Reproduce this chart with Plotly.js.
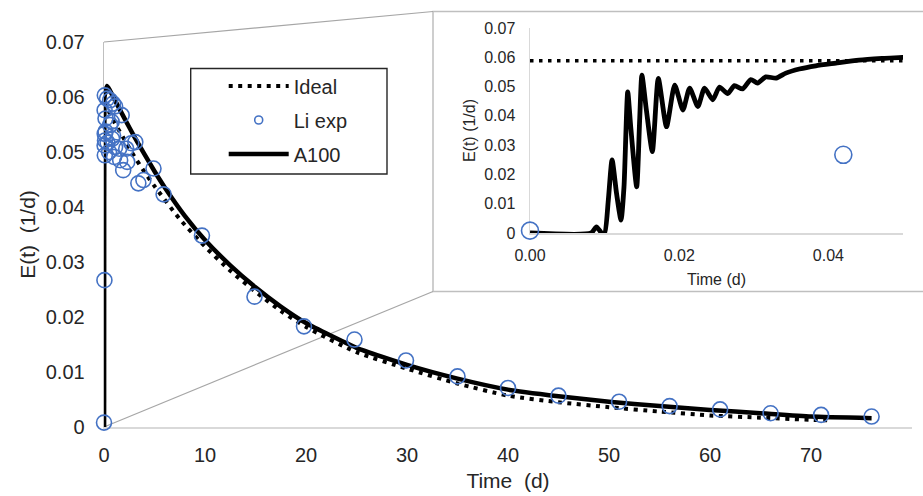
<!DOCTYPE html>
<html>
<head>
<meta charset="utf-8">
<script src="https://cdn.plot.ly/plotly-3.0.1.min.js"></script>
<style>html,body{margin:0;padding:0;background:#fff;}#chart{width:923px;height:496px;}</style>
</head>
<body>
<div id="chart"></div>
<script>
// ---- data ----
var idealT = [0, 0.05, 1, 2, 3, 4, 5, 7.5, 10, 12.5, 15, 17.5, 20, 25, 30, 35, 40, 45, 50, 55, 60, 65, 70, 72];
var idealE = [0.0588, 0.0588, 0.0555, 0.0523, 0.0492, 0.0464, 0.0438, 0.0378, 0.0328, 0.0284, 0.0246, 0.0211, 0.0182, 0.0136, 0.0106, 0.0079, 0.0057, 0.0045, 0.0036, 0.0028, 0.0021, 0.0017, 0.0013, 0.0012];

var a100T = [0, 0.0082, 0.0089, 0.0096, 0.0100, 0.0105, 0.0110, 0.0116, 0.0122, 0.0126, 0.0131, 0.0135, 0.0143, 0.0147, 0.0150, 0.0156, 0.0164, 0.0172, 0.0183, 0.0194, 0.0205, 0.0214, 0.0225, 0.0234, 0.0245, 0.0254, 0.0265, 0.0274, 0.0285, 0.0296, 0.0305, 0.0316, 0.0330, 0.0343, 0.0361, 0.0383, 0.0410, 0.0441, 0.0472, 0.0499,
            0.3, 1, 2, 3, 4, 5, 6, 8, 10, 12.5, 15, 17.5, 20, 25, 30, 35, 40, 45, 50, 55, 60, 65, 70, 76];
var a100E = [0, 0, 0.0021, 0, 0, 0.0113, 0.0250, 0.0135, 0.0044, 0.0158, 0.0482, 0.0363, 0.0158, 0.0386, 0.0539, 0.0420, 0.0278, 0.0528, 0.0363, 0.0505, 0.0420, 0.0495, 0.0432, 0.0495, 0.0455, 0.0498, 0.0476, 0.0503, 0.0492, 0.0524, 0.0512, 0.0533, 0.0529, 0.0546, 0.0560, 0.0571, 0.0580, 0.0590, 0.0596, 0.0600,
            0.0620, 0.0597, 0.0562, 0.0528, 0.0496, 0.0465, 0.0436, 0.0384, 0.0340, 0.0294, 0.0254, 0.0219, 0.0189, 0.0144, 0.0113, 0.0088, 0.0068, 0.0056, 0.0046, 0.0038, 0.0031, 0.0025, 0.0019, 0.0016];

var liT = [0, 0.042, 0.06, 0.07, 0.06, 0.08, 0.08, 0.1, 0.15, 0.15, 0.3, 0.35, 0.5, 0.6, 0.6, 0.76, 0.8, 0.9, 0.9, 1.0, 1.1, 1.1, 1.5, 1.6, 1.75, 1.9, 2.2, 2.3, 2.7, 3.1, 3.4, 3.9, 4.9, 5.9,
           9.7, 14.9, 19.8, 24.8, 29.9, 35, 40, 45, 51, 56, 61, 66, 71, 76];
var liE = [0.0008, 0.0267, 0.0576, 0.0533, 0.0512, 0.0494, 0.0603, 0.0521, 0.0561, 0.0537, 0.0597, 0.0517, 0.0500, 0.0594, 0.0549, 0.0555, 0.0524, 0.0588, 0.0530, 0.0491, 0.0583, 0.0509, 0.0506, 0.0485, 0.0567, 0.0467, 0.0506, 0.0482, 0.0516, 0.0518, 0.0443, 0.0449, 0.0470, 0.0423,
           0.0348, 0.0237, 0.0183, 0.0159, 0.0121, 0.0092, 0.0071, 0.0057, 0.0046, 0.0038, 0.0032, 0.0025, 0.0022, 0.0019];

var mainXTicks = [0, 10, 20, 30, 40, 50, 60, 70, 80];
var yTicks = [0, 0.01, 0.02, 0.03, 0.04, 0.05, 0.06, 0.07];
var insetXTicks = [0, 0.02, 0.04];

// ---- geometry helpers (pixels -> paper) ----
var W = 923, H = 496, ML = 104, MR = 11, MT = 20, MB = 69;
var PW = W - ML - MR, PH = H - MT - MB;
function px(x) { return (x - ML) / PW; }
function py(y) { return (H - MB - y) / PH; }

var FONT = 'Liberation Sans, Arial, sans-serif';
var TXT = '#262626';
var BLUE = '#4472C4';

var traces = [
  {x: idealT, y: idealE, name: 'Ideal', mode: 'lines', legendrank: 1, legendgroup: 'g1',
   line: {color: '#000', width: 4, dash: '4px,5.5px', shape: 'spline', smoothing: 0.6}, xaxis: 'x', yaxis: 'y'},
  {x: a100T, y: a100E, name: 'A100', mode: 'lines', legendrank: 3, legendgroup: 'g3',
   line: {color: '#000', width: 4.5, shape: 'spline', smoothing: 0.5}, xaxis: 'x', yaxis: 'y'},
  {x: liT, y: liE, name: 'Li exp', mode: 'markers', showlegend: false, cliponaxis: false,
   marker: {symbol: 'circle-open', size: 15, color: BLUE, line: {width: 1.6, color: BLUE}}, xaxis: 'x', yaxis: 'y'},
  {x: [null], y: [null], name: 'Li exp', mode: 'markers', legendrank: 2, legendgroup: 'g2',
   marker: {symbol: 'circle-open', size: 8, color: BLUE, line: {width: 1.6, color: BLUE}}, xaxis: 'x', yaxis: 'y'},
  // inset
  {x: idealT, y: idealE, name: 'Ideal', mode: 'lines', showlegend: false,
   line: {color: '#000', width: 3.5, dash: '3.5px,5.5px'}, xaxis: 'x2', yaxis: 'y2'},
  {x: a100T, y: a100E, name: 'A100', mode: 'lines', showlegend: false,
   line: {color: '#000', width: 4.8, shape: 'spline', smoothing: 0.6}, xaxis: 'x2', yaxis: 'y2'},
  {x: liT, y: liE, name: 'Li exp', mode: 'markers', showlegend: false, cliponaxis: false,
   marker: {symbol: 'circle-open', size: 17, color: BLUE, line: {width: 1.6, color: BLUE}}, xaxis: 'x2', yaxis: 'y2'}
];

var legBox = {x0: 190.7, x1: 387, y0: 68.5, y1: 174};
var inset = {x0: 433, x1: 926, y0: 11.5, y1: 291.5};

var layout = {
  width: W, height: H,
  margin: {l: ML, r: MR, t: MT, b: MB},
  paper_bgcolor: '#fff', plot_bgcolor: 'rgba(0,0,0,0)',
  font: {family: FONT, color: TXT, size: 20},
  showlegend: true,
  legend: {x: px(legBox.x0 + 33), y: py(legBox.y0 - 2), xanchor: 'left', yanchor: 'top',
           bgcolor: 'rgba(0,0,0,0)', borderwidth: 0, itemwidth: 60, tracegroupgap: 5,
           traceorder: 'grouped', font: {family: FONT, size: 20, color: TXT}},
  xaxis: {domain: [0, 1], range: [0, 80], tickvals: mainXTicks, showgrid: false, zeroline: false,
          showline: true, linecolor: '#D9D9D9', linewidth: 1.5, ticks: '', layer: 'below traces',
          tickfont: {size: 20, color: TXT}, ticklabelstandoff: 9, anchor: 'y',
          title: {text: 'Time\u00a0 (d)', font: {size: 21, color: TXT}, standoff: 9}},
  yaxis: {domain: [0, py(MT + 22)], range: [0, 0.07], tickvals: yTicks, showgrid: false, zeroline: false,
          showline: true, linecolor: '#BFBFBF', linewidth: 1.3, ticks: '', layer: 'below traces',
          tickfont: {size: 20, color: TXT}, ticklabelstandoff: 14, anchor: 'x',
          title: {text: 'E(t)\u00a0 (1/d)', font: {size: 21, color: TXT}, standoff: 4}},
  xaxis2: {domain: [px(530), px(903)], range: [0, 0.05], tickvals: insetXTicks, tickformat: '.2f',
           showgrid: false, zeroline: false, showline: true, linecolor: '#D9D9D9', linewidth: 1.5,
           ticks: '', layer: 'below traces', tickfont: {size: 16, color: TXT}, ticklabelstandoff: 7, anchor: 'y2',
           title: {text: 'Time (d)', font: {size: 16, color: TXT}, standoff: 11}},
  yaxis2: {domain: [py(233), py(28)], range: [0, 0.07], tickvals: yTicks, showgrid: false, zeroline: false,
           showline: true, linecolor: '#D9D9D9', linewidth: 1.5, ticks: '', layer: 'below traces',
           tickfont: {size: 16, color: TXT}, ticklabelstandoff: 10, anchor: 'x2',
           title: {text: 'E(t) (1/d)', font: {size: 16, color: TXT}, standoff: 4}},
  shapes: [
    {type: 'rect', xref: 'paper', yref: 'paper', x0: px(inset.x0), x1: px(inset.x1), y0: py(inset.y1), y1: py(inset.y0),
     line: {color: '#BFBFBF', width: 1.5}, fillcolor: 'rgba(0,0,0,0)', layer: 'below'},
    {type: 'line', xref: 'paper', yref: 'paper', x0: 0, y0: py(MT + 22), x1: px(inset.x0), y1: py(inset.y0),
     line: {color: '#A6A6A6', width: 1.2}, layer: 'below'},
    {type: 'line', xref: 'paper', yref: 'paper', x0: 0, y0: 0, x1: px(inset.x0), y1: py(inset.y1),
     line: {color: '#A6A6A6', width: 1.2}, layer: 'below'},
    {type: 'rect', xref: 'paper', yref: 'paper', x0: px(legBox.x0), x1: px(legBox.x1), y0: py(legBox.y1), y1: py(legBox.y0),
     line: {color: '#262626', width: 1.4}, fillcolor: '#fff', layer: 'above'}
  ]
};

Plotly.newPlot('chart', traces, layout, {displayModeBar: false, staticPlot: true});
</script>
</body>
</html>
